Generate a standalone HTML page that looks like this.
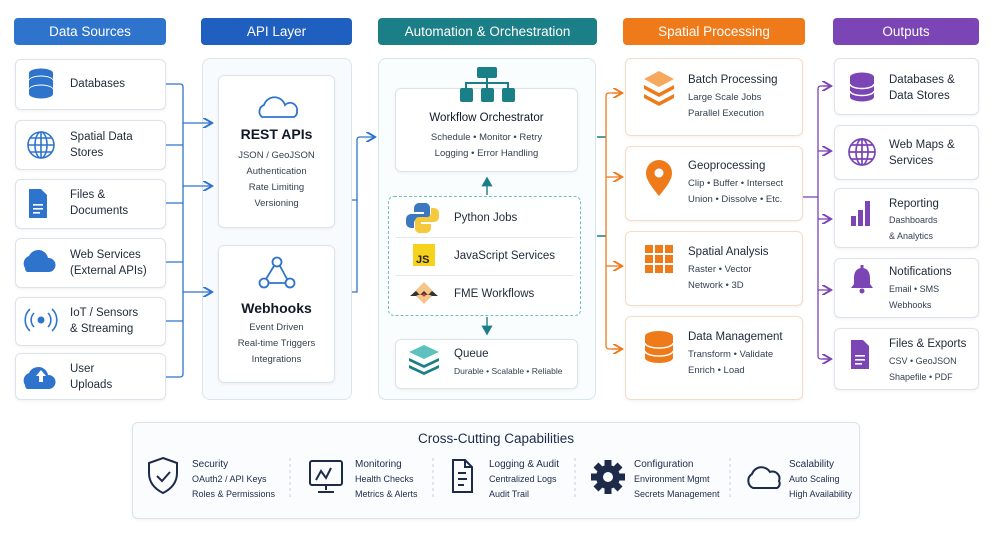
<!DOCTYPE html>
<html><head><meta charset="utf-8"><style>
*{box-sizing:border-box;margin:0;padding:0}
body{width:1000px;height:551px;background:#fff;font-family:"Liberation Sans",sans-serif;position:relative;overflow:hidden;color:#1f2937}
.a{position:absolute}
.hd{position:absolute;top:18px;height:27px;border-radius:4px;color:#fff;font-size:13.5px;display:flex;align-items:center;justify-content:center}
.card{position:absolute;background:#fff;border:1px solid #dde3ea;border-radius:6px;box-shadow:0 1px 3px rgba(0,0,0,.06)}
.t{font-size:11.5px;color:#1f2937;line-height:16px}
.s{font-size:9.5px;color:#374151;line-height:16px}
.cont{position:absolute;border:1px solid #dbe5f0;border-radius:8px;background:#f8fbfe}
</style></head><body>
<div class="hd" style="left:14px;width:152px;background:#2f74cc">Data Sources</div>
<div class="hd" style="left:201px;width:151px;background:#1f5fbf">API Layer</div>
<div class="hd" style="left:378px;width:219px;background:#1a7f86">Automation &amp; Orchestration</div>
<div class="hd" style="left:623px;width:182px;background:#ef7a1a">Spatial Processing</div>
<div class="hd" style="left:833px;width:146px;background:#7b45b5">Outputs</div>

<!-- Data sources -->
<div class="card" style="left:15px;top:59px;width:151px;height:51px"></div>
<div class="card" style="left:15px;top:120px;width:151px;height:50px"></div>
<div class="card" style="left:15px;top:179px;width:151px;height:50px"></div>
<div class="card" style="left:15px;top:238px;width:151px;height:50px"></div>
<div class="card" style="left:15px;top:297px;width:151px;height:49px"></div>
<div class="card" style="left:15px;top:353px;width:151px;height:47px"></div>
<div class="a t" style="left:70px;top:76px">Databases</div>
<div class="a t" style="left:70px;top:129px">Spatial Data<br>Stores</div>
<div class="a t" style="left:70px;top:187px">Files &amp;<br>Documents</div>
<div class="a t" style="left:70px;top:247px">Web Services<br>(External APIs)</div>
<div class="a t" style="left:70px;top:305px">IoT / Sensors<br>&amp; Streaming</div>
<div class="a t" style="left:70px;top:361px">User<br>Uploads</div>

<!-- API -->
<div class="cont" style="left:202px;top:58px;width:150px;height:342px"></div>
<div class="card" style="left:218px;top:75px;width:117px;height:153px"></div>
<div class="card" style="left:218px;top:245px;width:117px;height:138px"></div>
<div class="a" style="left:218px;top:126px;width:117px;text-align:center;font-size:14px;font-weight:bold;color:#111827">REST APIs</div>
<div class="a s" style="left:218px;top:148px;width:117px;text-align:center">JSON / GeoJSON<br>Authentication<br>Rate Limiting<br>Versioning</div>
<div class="a" style="left:218px;top:300px;width:117px;text-align:center;font-size:14px;font-weight:bold;color:#111827">Webhooks</div>
<div class="a s" style="left:218px;top:320px;width:117px;text-align:center">Event Driven<br>Real-time Triggers<br>Integrations</div>

<!-- Automation -->
<div class="cont" style="left:378px;top:58px;width:218px;height:342px;border-color:#d5e7e8;background:#fafdfd"></div>
<div class="card" style="left:395px;top:88px;width:183px;height:84px"></div>
<div class="a" style="left:395px;top:112px;width:183px;text-align:center;font-size:11.5px;color:#111827">Workflow Orchestrator</div>
<div class="a s" style="left:395px;top:130px;width:183px;text-align:center">Schedule • Monitor • Retry<br>Logging • Error Handling</div>
<div class="a" style="left:388px;top:196px;width:193px;height:120px;border:1.3px dashed #6fbfbf;border-radius:6px;background:#fff"></div>
<div class="a" style="left:396px;top:237px;width:178px;height:1px;background:#e5e9ee"></div>
<div class="a" style="left:396px;top:275px;width:178px;height:1px;background:#e5e9ee"></div>
<div class="a t" style="left:454px;top:210px">Python Jobs</div>
<div class="a t" style="left:454px;top:248px">JavaScript Services</div>
<div class="a t" style="left:454px;top:286px">FME Workflows</div>
<div class="card" style="left:395px;top:339px;width:183px;height:50px"></div>
<div class="a t" style="left:454px;top:346px">Queue</div>
<div class="a" style="left:454px;top:366px;font-size:8.5px;color:#374151">Durable • Scalable • Reliable</div>

<!-- Spatial -->
<div class="card" style="left:625px;top:58px;width:178px;height:78px;border-color:#f6dcc4"></div>
<div class="card" style="left:625px;top:146px;width:178px;height:75px;border-color:#f6dcc4"></div>
<div class="card" style="left:625px;top:231px;width:178px;height:75px;border-color:#f6dcc4"></div>
<div class="card" style="left:625px;top:316px;width:178px;height:84px;border-color:#f6dcc4"></div>
<div class="a t" style="left:688px;top:72px">Batch Processing</div>
<div class="a s" style="left:688px;top:90px">Large Scale Jobs<br>Parallel Execution</div>
<div class="a t" style="left:688px;top:158px">Geoprocessing</div>
<div class="a s" style="left:688px;top:176px">Clip • Buffer • Intersect<br>Union • Dissolve • Etc.</div>
<div class="a t" style="left:688px;top:244px">Spatial Analysis</div>
<div class="a s" style="left:688px;top:262px">Raster • Vector<br>Network • 3D</div>
<div class="a t" style="left:688px;top:329px">Data Management</div>
<div class="a s" style="left:688px;top:347px">Transform • Validate<br>Enrich • Load</div>

<!-- Outputs -->
<div class="card" style="left:834px;top:58px;width:145px;height:57px"></div>
<div class="card" style="left:834px;top:125px;width:145px;height:55px"></div>
<div class="card" style="left:834px;top:188px;width:145px;height:60px"></div>
<div class="card" style="left:834px;top:258px;width:145px;height:60px"></div>
<div class="card" style="left:834px;top:328px;width:145px;height:62px"></div>
<div class="a t" style="left:889px;top:72px">Databases &amp;<br>Data Stores</div>
<div class="a t" style="left:889px;top:137px">Web Maps &amp;<br>Services</div>
<div class="a t" style="left:889px;top:196px">Reporting</div>
<div class="a s" style="left:889px;top:212px;font-size:9px">Dashboards<br>&amp; Analytics</div>
<div class="a t" style="left:889px;top:264px">Notifications</div>
<div class="a s" style="left:889px;top:281px;font-size:9px">Email • SMS<br>Webhooks</div>
<div class="a t" style="left:889px;top:336px">Files &amp; Exports</div>
<div class="a s" style="left:889px;top:353px;font-size:9px">CSV • GeoJSON<br>Shapefile • PDF</div>

<!-- Bottom -->
<div class="card" style="left:132px;top:422px;width:728px;height:97px;background:#fbfcfd"></div>
<div class="a" style="left:132px;top:431px;width:728px;text-align:center;font-size:13.5px;color:#1e2a4a">Cross-Cutting Capabilities</div>
<div class="a" style="left:192px;top:457px;font-size:10px;color:#1e2a4a;line-height:15px">Security<br><span style="font-size:9px">OAuth2 / API Keys<br>Roles &amp; Permissions</span></div>
<div class="a" style="left:355px;top:457px;font-size:10px;color:#1e2a4a;line-height:15px">Monitoring<br><span style="font-size:9px">Health Checks<br>Metrics &amp; Alerts</span></div>
<div class="a" style="left:489px;top:457px;font-size:10px;color:#1e2a4a;line-height:15px">Logging &amp; Audit<br><span style="font-size:9px">Centralized Logs<br>Audit Trail</span></div>
<div class="a" style="left:634px;top:457px;font-size:10px;color:#1e2a4a;line-height:15px">Configuration<br><span style="font-size:9px">Environment Mgmt<br>Secrets Management</span></div>
<div class="a" style="left:789px;top:457px;font-size:10px;color:#1e2a4a;line-height:15px">Scalability<br><span style="font-size:9px">Auto Scaling<br>High Availability</span></div>

<svg class="a" style="left:0;top:0" width="1000" height="551" viewBox="0 0 1000 551">
<defs>
<marker id="mb" markerWidth="8" markerHeight="8" refX="6" refY="4" orient="auto"><path d="M0,0 L7,4 L0,8" fill="none" stroke="#2f74cc" stroke-width="1.5"/></marker>
<marker id="mt" markerWidth="8" markerHeight="8" refX="6" refY="4" orient="auto"><path d="M0,0 L7,4 L0,8 Z" fill="#1a7f86"/></marker>
<marker id="mo" markerWidth="8" markerHeight="8" refX="6" refY="4" orient="auto"><path d="M0,0 L7,4 L0,8" fill="none" stroke="#ef7a1a" stroke-width="1.5"/></marker>
<marker id="mp" markerWidth="8" markerHeight="8" refX="6" refY="4" orient="auto"><path d="M0,0 L7,4 L0,8" fill="none" stroke="#7b45b5" stroke-width="1.5"/></marker>
</defs>
<g fill="none" stroke="#2f74cc" stroke-width="1.3">
<path d="M166,84 H180 Q183,84 183,87 V374 Q183,377 180,377 H166"/>
<path d="M166,145 H183 M166,203 H183 M166,262 H183 M166,321 H183"/>
<path d="M183,123 H211" marker-end="url(#mb)"/>
<path d="M183,186 H211" marker-end="url(#mb)"/>
<path d="M183,292 H211" marker-end="url(#mb)"/>
<path d="M352,200 H357 V140 Q357,137 360,137 H374" marker-end="url(#mb)"/>
<path d="M352,292 H357 V200"/>
</g>
<g fill="none" stroke="#1a7f86" stroke-width="1.4">
<path d="M487,195 V178" marker-end="url(#mt)"/>
<path d="M487,317 V334" marker-end="url(#mt)"/>
<path d="M597,137 H606 M597,236 H606"/>
</g>
<g fill="none" stroke="#ef7a1a" stroke-width="1.3">
<path d="M621,93 H609 Q606,93 606,96 V346 Q606,349 609,349 H621" />
<path d="M612,93 H621" marker-end="url(#mo)"/>
<path d="M606,177 H621" marker-end="url(#mo)"/>
<path d="M606,266 H621" marker-end="url(#mo)"/>
<path d="M612,349 H621" marker-end="url(#mo)"/>
</g>
<g fill="none" stroke="#7b45b5" stroke-width="1.3">
<path d="M803,197 H818"/>
<path d="M830,86 H821 Q818,86 818,89 V356 Q818,359 821,359 H830"/>
<path d="M823,86 H830" marker-end="url(#mp)"/>
<path d="M818,151 H830" marker-end="url(#mp)"/>
<path d="M818,219 H830" marker-end="url(#mp)"/>
<path d="M818,290 H830" marker-end="url(#mp)"/>
<path d="M823,359 H830" marker-end="url(#mp)"/>
</g>
<!-- data source icons -->
<g fill="#2f74cc">
<ellipse cx="41" cy="73" rx="12" ry="4.5"/><rect x="29" y="73" width="24" height="6" /><ellipse cx="41" cy="80" rx="12" ry="4.5" fill="#fff"/><ellipse cx="41" cy="81" rx="12" ry="4.5"/><rect x="29" y="81" width="24" height="8"/><ellipse cx="41" cy="89" rx="12" ry="4.5" fill="#fff"/><ellipse cx="41" cy="90" rx="12" ry="4.5"/><rect x="29" y="90" width="24" height="4"/><ellipse cx="41" cy="94" rx="12" ry="4.5"/>
<path d="M29,189 h12 l6,6 v23 h-18z"/>
<path d="M25,268 a8,8 0 0 1 4,-12 a10,10 0 0 1 19,2 a7,7 0 0 1 1,14 h-22 a5,5 0 0 1 -2,-4z"/>
<path d="M25,385 a8,8 0 0 1 4,-12 a10,10 0 0 1 19,2 a7,7 0 0 1 1,14 h-22 a5,5 0 0 1 -2,-4z"/>
<circle cx="41" cy="320" r="3.5"/>
</g>
<g fill="#fff"><rect x="33" y="204" width="10" height="1.6"/><rect x="33" y="208" width="10" height="1.6"/><rect x="33" y="212" width="7" height="1.6"/><path d="M41,370 l-5,6 h3 v6 h4 v-6 h3z"/></g>
<g fill="none" stroke="#2f74cc" stroke-width="1.6">
<circle cx="41" cy="145" r="13"/><ellipse cx="41" cy="145" rx="6" ry="13"/><path d="M28,145 h26 M30,138 h22 M30,152 h22 M41,132 v26"/>
<path d="M34,313 a10,10 0 0 0 0,14 M48,313 a10,10 0 0 1 0,14 M30,309 a15,15 0 0 0 0,22 M52,309 a15,15 0 0 1 0,22"/>
</g>
<!-- API icons -->
<g fill="none" stroke="#2f74cc" stroke-width="1.8">
<path d="M262,117 a7,7 0 0 1 2,-12 a11,11 0 0 1 21,0 a7,7 0 0 1 12,6 a6,6 0 0 1 -3,6z"/>
<circle cx="277" cy="262" r="4.5"/><circle cx="264" cy="283" r="4.5"/><circle cx="290" cy="283" r="4.5"/>
<path d="M274,266 L266,279 M268,283 h18 M280,266 l7,13"/>
</g>
<!-- orchestrator icon -->
<g fill="#1a7f86"><rect x="477" y="67" width="20" height="11" rx="2"/><rect x="460" y="88" width="13" height="14" rx="2"/><rect x="481" y="88" width="13" height="14" rx="2"/><rect x="502" y="88" width="13" height="14" rx="2"/></g>
<path d="M487,78 v5 M466,88 v-5 h42 v5 M487,83 v5" stroke="#1a7f86" stroke-width="2" fill="none"/>
<!-- python -->
<path d="M424,203 h-5 a5,5 0 0 0 -5,5 v4 h10 v2 h-13 a5,5 0 0 0 -5,5 v4 a5,5 0 0 0 5,5 h3 v-5 a4,4 0 0 1 4,-4 h8 a4,4 0 0 0 4,-4 v-7 a5,5 0 0 0 -6,-5z" fill="#3c78c0"/>
<path d="M421,233 h5 a5,5 0 0 0 5,-5 v-4 h-10 v-2 h13 a5,5 0 0 0 5,-5 v-4 a5,5 0 0 0 -5,-5 h-3 v5 a4,4 0 0 1 -4,4 h-8 a4,4 0 0 0 -4,4 v7 a5,5 0 0 0 6,5z" fill="#f5c93a"/>
<rect x="413" y="244" width="22" height="22" fill="#f7d21c"/>
<text x="416" y="263" font-size="11" font-weight="bold" fill="#222" font-family="Liberation Sans">JS</text>
<path d="M424,282 l11,11 l-11,11 l-11,-11z" fill="#f6c58a"/><path d="M410,296 l6,-5 l4,4 l4,-4 l4,4 l4,-4 l6,5 h-6 l-4,-2 l-4,2 l-4,-2 l-4,2z" fill="#333"/><circle cx="424" cy="295" r="1.5" fill="#d33"/>
<!-- queue -->
<g fill="#1a7f86"><path d="M424,345 l15,7 l-15,7 l-15,-7z" fill="#5fc0c0"/><path d="M409,358 l15,7 l15,-7 v3 l-15,7 l-15,-7z"/><path d="M409,365 l15,7 l15,-7 v3 l-15,7 l-15,-7z"/></g>
<!-- spatial icons -->
<g fill="#ef7a1a">
<path d="M659,71 l15,8 l-15,8 l-15,-8z" fill="#f6a85c"/>
<path d="M644,85 l15,8 l15,-8 v4 l-15,8 l-15,-8z"/><path d="M644,94 l15,8 l15,-8 v4 l-15,8 l-15,-8z"/>
<path d="M659,196 c-9,-11 -13,-17 -13,-23 a13,13 0 0 1 26,0 c0,6 -4,12 -13,23z"/>
<rect x="645" y="245" width="8" height="8"/><rect x="655" y="245" width="8" height="8"/><rect x="665" y="245" width="8" height="8"/>
<rect x="645" y="255" width="8" height="8"/><rect x="655" y="255" width="8" height="8"/><rect x="665" y="255" width="8" height="8"/>
<rect x="645" y="265" width="8" height="8"/><rect x="655" y="265" width="8" height="8"/><rect x="665" y="265" width="8" height="8"/>
<ellipse cx="659" cy="336" rx="14" ry="5"/><rect x="645" y="336" width="28" height="22"/><ellipse cx="659" cy="358" rx="14" ry="5"/>
</g>
<circle cx="659" cy="173" r="4.5" fill="#fff"/>
<path d="M645,343 a14,5 0 0 0 28,0 M645,351 a14,5 0 0 0 28,0" stroke="#fff" stroke-width="1.5" fill="none"/>
<!-- output icons -->
<g fill="#7b45b5">
<ellipse cx="862" cy="77" rx="12" ry="4.5"/><rect x="850" y="77" width="24" height="20"/><ellipse cx="862" cy="97" rx="12" ry="4.5"/>
<rect x="851" y="216" width="5" height="10"/><rect x="858" y="210" width="5" height="16"/><rect x="865" y="201" width="5" height="25"/>
<path d="M862,268 a3,3 0 0 1 0,0 c-6,0 -8,5 -8,10 v6 l-3,4 h22 l-3,-4 v-6 c0,-5 -2,-10 -8,-10z"/><circle cx="862" cy="291" r="2.5"/><rect x="860.5" y="265" width="3" height="4"/>
<path d="M851,340 h12 l6,6 v23 h-18z"/>
</g>
<path d="M850,84 a12,4.5 0 0 0 24,0 M850,91 a12,4.5 0 0 0 24,0" stroke="#fff" stroke-width="1.5" fill="none"/>
<g fill="#fff"><rect x="855" y="355" width="10" height="1.6"/><rect x="855" y="359" width="10" height="1.6"/><rect x="855" y="363" width="7" height="1.6"/></g>
<g fill="none" stroke="#7b45b5" stroke-width="1.7"><circle cx="862" cy="152" r="13"/><ellipse cx="862" cy="152" rx="6" ry="13"/><path d="M849,152 h26 M851,145 h22 M851,159 h22 M862,139 v26"/></g>
<!-- bottom icons -->
<g fill="none" stroke="#1e2a4a" stroke-width="2">
<path d="M163,458 l14,5 v10 c0,10 -6,16 -14,20 c-8,-4 -14,-10 -14,-20 v-10z"/><path d="M157,476 l5,5 l8,-9"/>
<rect x="310" y="461" width="32" height="24" rx="2"/><path d="M326,485 v5 M318,492 h16 M316,480 l5,-9 l5,7 l5,-10"/>
<path d="M453,460 h12 l7,7 v25 h-19z M465,460 v7 h7 M458,473 h8 M458,479 h9 M458,485 h6"/>
<path d="M753,488 a8,8 0 0 1 -1,-14 a10,10 0 0 1 18,-2 a7,7 0 0 1 9,9 a5,5 0 0 1 -2,7z"/>
</g>
<g fill="#1e2a4a"><circle cx="608" cy="477" r="12"/>
<g transform="translate(608 477)"><rect x="-3.5" y="-17" width="7" height="34"/><rect x="-3.5" y="-17" width="7" height="34" transform="rotate(45)"/><rect x="-3.5" y="-17" width="7" height="34" transform="rotate(90)"/><rect x="-3.5" y="-17" width="7" height="34" transform="rotate(135)"/></g></g>
<circle cx="608" cy="477" r="5" fill="#fbfcfd"/>
<g stroke="#c9cfd8" stroke-dasharray="3,3" stroke-width="1"><path d="M290,458 v40 M433,458 v40 M575,458 v40 M730,458 v40"/></g>
</svg>
</body></html>
